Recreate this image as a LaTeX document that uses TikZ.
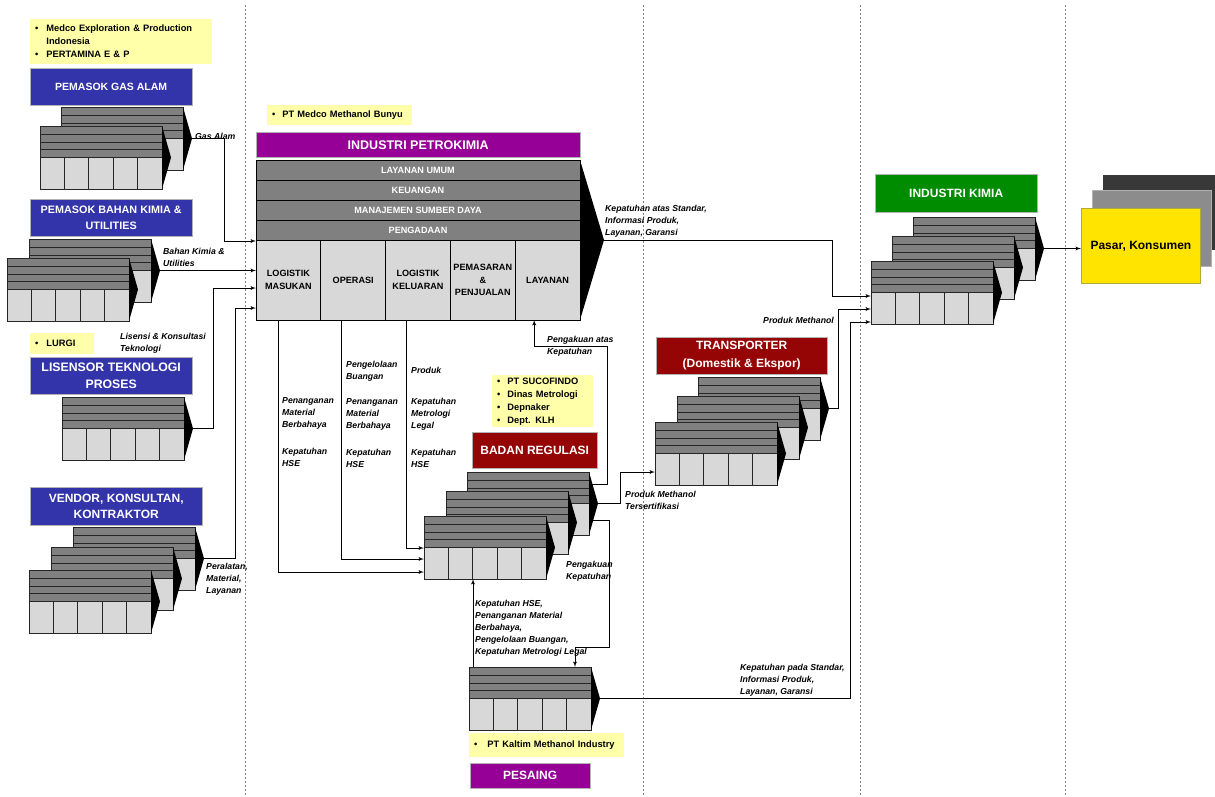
\documentclass[tikz,border=0pt]{standalone}
\usepackage{fontspec}
\setmainfont{Liberation Sans}
\usetikzlibrary{arrows, positioning}

\definecolor{hdrblue}{RGB}{51,51,170}
\definecolor{hdrpurple}{RGB}{150,0,150}
\definecolor{hdrred}{RGB}{150,5,5}
\definecolor{hdrgreen}{RGB}{0,140,0}
\definecolor{noteyellow}{RGB}{255,255,170}
\definecolor{marketyellow}{RGB}{255,228,0}
\definecolor{stripegray}{RGB}{128,128,128}
\definecolor{cellgray}{RGB}{216,216,216}

\tikzstyle{header} = [rectangle, anchor=north west, inner sep=0pt, align=center, text=white, draw=white!70!black, line width=0.4pt]
\tikzstyle{note} = [rectangle, anchor=north west, inner xsep=5pt, inner ysep=0pt, fill=noteyellow, align=left, font=\bfseries\fontsize{9.3}{13}\selectfont]
\tikzstyle{band} = [rectangle, draw=black, line width=0.9pt, fill=stripegray, text=white, minimum width=324pt, minimum height=20pt, inner sep=0pt, outer sep=0pt, font=\bfseries\fontsize{9.1}{10}\selectfont]
\tikzstyle{cell} = [rectangle, draw=black, line width=0.9pt, fill=cellgray, minimum width=64.8pt, minimum height=80pt, inner sep=0pt, outer sep=0pt, align=center, font=\bfseries\fontsize{9.1}{12.8}\selectfont]
\tikzstyle{unitbox} = [rectangle, anchor=north west, minimum width=122pt, minimum height=63pt, inner sep=0pt, outer sep=0pt]
\tikzstyle{unitline} = [draw=black!85, line width=0.9pt]
\tikzstyle{flowtext} = [anchor=north west, inner sep=0pt, align=left, font=\bfseries\itshape\fontsize{8.7}{12}\selectfont]
\tikzstyle{line} = [draw, -latex', line width=0.9pt]
\tikzstyle{divider} = [draw=black!50, line width=0.8pt, dash pattern=on 2pt off 2pt]

% one value chain block: name, left, top
\newcommand{\vcunit}[3]{%
  \begin{scope}[shift={(#2,#3)}]
    \fill[cellgray] (0,0) rectangle (122,63);
    \fill[stripegray] (0,0) rectangle (122,31);
    \foreach \ys in {8,16,23.5,31} \draw[unitline] (0,\ys) -- (122,\ys);
    \foreach \xs in {24.4,48.8,73.2,97.6} \draw[unitline] (\xs,31) -- (\xs,63);
    \draw[unitline] (0,0) rectangle (122,63);
    \fill (122,0) -- (131,31.5) -- (122,63) -- cycle;
    \node[unitbox] (#1) at (0,0) {};
    \coordinate (#1-tip) at (131,31.5);
  \end{scope}}

\begin{document}
\begin{tikzpicture}[x=1pt, y=-1pt]
\useasboundingbox (0,0) rectangle (1215,796);

\foreach \xd in {245,643,860,1065} \draw[divider] (\xd,5) -- (\xd,796);

% left column: suppliers
\node[note, text width=172pt, minimum height=45pt] (gasnote) at (30,19) {\begin{tabular}{@{}l@{\hspace{8pt}}l@{}}\textbullet & Medco Exploration \& Production\\ & Indonesia\\ \textbullet & PERTAMINA E \& P\end{tabular}};
\node[header, fill=hdrblue, minimum width=162pt, minimum height=37pt, font=\bfseries\fontsize{10.5}{13}\selectfont] (gashdr) at (30,68) {PEMASOK GAS ALAM};
\vcunit{gas2}{61}{107}
\vcunit{gas1}{40}{126}

\node[header, fill=hdrblue, minimum width=162pt, minimum height=37pt, font=\bfseries\fontsize{10.8}{16}\selectfont] (bahanhdr) at (30,199) {PEMASOK BAHAN KIMIA \&\\UTILITIES};
\vcunit{bahan2}{29}{239}
\vcunit{bahan1}{7}{258}

\node[note, text width=54pt, minimum height=21pt] (lurginote) at (30,333) {\textbullet\hspace{8pt}LURGI};
\node[header, fill=hdrblue, minimum width=162pt, minimum height=37pt, font=\bfseries\fontsize{12.3}{17}\selectfont] (lisensihdr) at (30,357) {LISENSOR TEKNOLOGI\\PROSES};
\vcunit{lisensi}{62}{397}

\node[header, fill=hdrblue, minimum width=172pt, minimum height=38pt, font=\bfseries\fontsize{12}{16}\selectfont] (vendorhdr) at (30,487) {VENDOR, KONSULTAN,\\KONTRAKTOR};
\vcunit{vendor3}{73}{527}
\vcunit{vendor2}{51}{547}
\vcunit{vendor1}{29}{570}

% industri petrokimia
\node[note, text width=135pt, minimum height=20pt] (medconote) at (267,105) {\textbullet\hspace{7pt}PT Medco Methanol Bunyu};
\node[header, fill=hdrpurple, minimum width=324pt, minimum height=25pt, font=\bfseries\fontsize{12.5}{14}\selectfont] (petrohdr) at (256,132) {INDUSTRI PETROKIMIA};
\node[band, anchor=north west] (umum) at (256,160) {LAYANAN UMUM};
\node[band, below=0pt of umum] (uang) {KEUANGAN};
\node[band, below=0pt of uang] (sdm) {MANAJEMEN SUMBER DAYA};
\node[band, below=0pt of sdm] (ada) {PENGADAAN};
\node[cell, anchor=north west] (masuk) at (ada.south west) {LOGISTIK\\MASUKAN};
\node[cell, right=0pt of masuk] (operasi) {OPERASI};
\node[cell, right=0pt of operasi] (keluar) {LOGISTIK\\KELUARAN};
\node[cell, right=0pt of keluar] (jual) {PEMASARAN\\\&\\PENJUALAN};
\node[cell, right=0pt of jual] (layan) {LAYANAN};
\coordinate (petro-tip) at ([xshift=24pt]ada.south east);
\fill (umum.north east) -- (petro-tip) -- (layan.south east) -- cycle;

% badan regulasi
\node[note, text width=91pt, minimum height=52pt] (regnote) at (492,375) {\begin{tabular}{@{}l@{\hspace{7pt}}l@{}}\textbullet & PT SUCOFINDO\\ \textbullet & Dinas Metrologi\\ \textbullet & Depnaker\\ \textbullet & Dept. KLH\end{tabular}};
\node[header, fill=hdrred, minimum width=125pt, minimum height=36pt, font=\bfseries\fontsize{12}{14}\selectfont] (reghdr) at (472,432) {BADAN REGULASI};
\vcunit{reg3}{467}{472}
\vcunit{reg2}{446}{491}
\vcunit{reg1}{424}{516}

% pesaing
\vcunit{rival}{469}{667}
\node[note, text width=145pt, minimum height=24pt] (rivalnote) at (469,733) {\textbullet\hspace{10pt}PT Kaltim Methanol Industry};
\node[header, fill=hdrpurple, minimum width=120pt, minimum height=25pt, font=\bfseries\fontsize{12}{14}\selectfont] (rivalhdr) at (470,763) {PESAING};

% transporter
\node[header, fill=hdrred, minimum width=171pt, minimum height=37pt, font=\bfseries\fontsize{12}{18}\selectfont] (transhdr) at (656,337) {TRANSPORTER\\(Domestik \& Ekspor)};
\vcunit{trans3}{698}{377}
\vcunit{trans2}{677}{396}
\vcunit{trans1}{655}{422}

% industri kimia
\node[header, fill=hdrgreen, minimum width=162pt, minimum height=38pt, font=\bfseries\fontsize{12}{14}\selectfont] (kimiahdr) at (875,174) {INDUSTRI KIMIA};
\vcunit{indkimia3}{913}{217}
\vcunit{indkimia2}{892}{236}
\vcunit{indkimia1}{871}{261}

% pasar
\node[rectangle, anchor=north west, fill=black!78, minimum width=112pt, minimum height=75pt] (market3) at (1103,175) {};
\node[rectangle, anchor=north west, fill=black!45, draw=black!30, minimum width=119pt, minimum height=76pt] (market2) at (1092,190) {};
\node[rectangle, anchor=north west, fill=marketyellow, draw=black!35!yellow, line width=0.8pt, minimum width=119pt, minimum height=75pt, font=\bfseries\fontsize{12}{14}\selectfont] (market) at (1081,208) {Pasar, Konsumen};

% connectors
\draw[line] (gas2-tip) -- ++(32,0) |- ([yshift=-1pt]masuk.north west);
\draw[line] (bahan2-tip) -- (bahan2-tip -| masuk.west);
\draw[line] (lisensi-tip) -- ++(20,0) |- ([yshift=-48pt]masuk.north west);
\draw[line] (vendor3-tip) -- ++(31,0) |- ([yshift=-68pt]masuk.north west);
\draw[line] ([xshift=22pt]masuk.south west) |- ([yshift=-56pt]reg1.north west);
\draw[line] ([xshift=21pt]operasi.south west) |- ([yshift=-43pt]reg1.north west);
\draw[line] ([xshift=21pt]keluar.south west) |- ([yshift=-32pt]reg1.north west);
\draw[line] ([yshift=-12pt]reg3.north east) -- ++(18,0) -- ++(0,-138) -| ([xshift=19pt]layan.south west);
\draw[line] (reg3-tip) -- ++(22,0) |- ([yshift=-50pt]trans1.north west);
\draw[line] ([yshift=-48pt]reg3.north east) -- ++(20,0) -- ++(0,127) -| ([xshift=106pt]rival.north west);
\draw[line] ([xshift=4pt]rival.north west) -- ([xshift=49pt]reg1.south west);
\draw[line] (petro-tip) -- ++(228,0) |- ([yshift=-35pt]indkimia1.north west);
\draw[line] (trans3-tip) -- ++(9,0) |- ([yshift=-48pt]indkimia1.north west);
\draw[line] (rival-tip) -- ++(250,0) |- ([yshift=-61pt]indkimia1.north west);
\draw[line] (indkimia3-tip) -- (indkimia3-tip -| market.west);

% connector texts
\node[flowtext] (gastext) at (195,132.5) {Gas Alam};
\node[flowtext] (bahantext) at (163,247.5) {Bahan Kimia \&\\Utilities};
\node[flowtext] (lisensitext) at (120,332.5) {Lisensi \& Konsultasi\\Teknologi};
\node[flowtext] (vendortext) at (206,562.5) {Peralatan,\\Material,\\Layanan};
\node[flowtext] (outtext1) at (282,397.5) {Penanganan\\Material\\Berbahaya\\[15pt]Kepatuhan\\HSE};
\node[flowtext] (outtext2) at (346,360.5) {Pengelolaan\\Buangan\\[13pt]Penanganan\\Material\\Berbahaya\\[15pt]Kepatuhan\\HSE};
\node[flowtext] (outtext3) at (411,366.5) {Produk\\[19pt]Kepatuhan\\Metrologi\\Legal\\[15pt]Kepatuhan\\HSE};
\node[flowtext] (acktext) at (547,335.5) {Pengakuan atas\\Kepatuhan};
\node[flowtext] (certtext) at (625,490.5) {Produk Methanol\\Tersertifikasi};
\node[flowtext] (ack2text) at (566,560.5) {Pengakuan\\Kepatuhan};
\node[flowtext] (rivaltext) at (475,599.5) {Kepatuhan HSE,\\Penanganan Material\\Berbahaya,\\Pengelolaan Buangan,\\Kepatuhan Metrologi Legal};
\node[flowtext] (petrotext) at (605,204.5) {Kepatuhan atas Standar,\\Informasi Produk,\\Layanan, Garansi};
\node[flowtext, anchor=north east] (transtext) at (834,316.5) {Produk Methanol};
\node[flowtext] (rival2text) at (740,663.5) {Kepatuhan pada Standar,\\Informasi Produk,\\Layanan, Garansi};
\end{tikzpicture}
\end{document}
